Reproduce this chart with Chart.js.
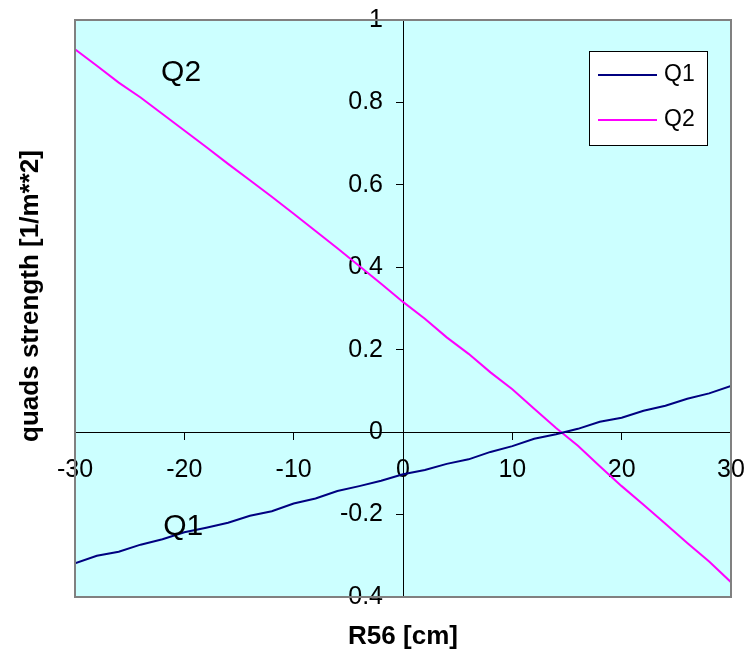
<!DOCTYPE html>
<html>
<head>
<meta charset="utf-8">
<script src="https://cdn.jsdelivr.net/npm/chart.js@4.4.1/dist/chart.umd.min.js"></script>
<style>
  html, body { margin: 0; padding: 0; background: #fff; }
  #chart { display: block; }
</style>
</head>
<body>
<canvas id="chart" width="747" height="655"></canvas>
<script>
// R56 in cm, one point every 2 cm
const r56 = [-30, -28, -26, -24, -22, -20, -18, -16, -14, -12, -10, -8, -6, -4, -2,
             0, 2, 4, 6, 8, 10, 12, 14, 16, 18, 20, 22, 24, 26, 28, 30];
const q1 = [-0.318, -0.300, -0.290, -0.273, -0.260, -0.243, -0.232, -0.220, -0.203, -0.192,
            -0.173, -0.161, -0.143, -0.131, -0.118, -0.102, -0.092, -0.077, -0.066, -0.048,
            -0.034, -0.016, -0.005, 0.008, 0.025, 0.035, 0.052, 0.064, 0.081, 0.094, 0.112];
const q2 = [0.929, 0.889, 0.848, 0.812, 0.772, 0.732, 0.692, 0.651, 0.611, 0.571,
            0.530, 0.488, 0.446, 0.403, 0.360, 0.316, 0.275, 0.230, 0.190, 0.145,
            0.104, 0.057, 0.010, -0.033, -0.083, -0.131, -0.176, -0.222, -0.269, -0.314, -0.364];
const seriesNames = ['Q1', 'Q2'];
const seriesColors = ['#000080', '#ff00ff'];
const xTicks = [-30, -20, -10, 0, 10, 20, 30];
const yTicks = [-0.4, -0.2, 0, 0.2, 0.4, 0.6, 0.8, 1];
const xTitle = 'R56 [cm]';
const yTitle = 'quads strength [1/m**2]';
// in-plot curve labels: [text, x, y]
const curveNotes = [['Q2', -20.3, 0.873], ['Q1', -20.1, -0.229]];

const FONT = '"Liberation Sans", Arial, sans-serif';

function toPoints(ys) {
    return r56.map(function(x, i) { return {x: x, y: ys[i]}; });
}

function noPadding(scale) {
    scale.paddingLeft = 0;
    scale.paddingRight = 0;
    scale.paddingTop = 0;
    scale.paddingBottom = 0;
}

// cyan plot area, grey frame, legend, notes and axis titles
const decorations = {
    id: 'decorations',
    beforeDraw(chart) {
        const ctx = chart.ctx, a = chart.chartArea;
        ctx.save();
        ctx.fillStyle = '#ffffff';
        ctx.fillRect(0, 0, chart.width, chart.height);
        ctx.fillStyle = '#ccffff';
        ctx.fillRect(a.left, a.top, a.right - a.left, a.bottom - a.top);
        ctx.restore();

        // y labels sit left of the tick marks, like the x labels sit below theirs
        const items = chart.scales.y.getLabelItems();
        if (!items.shifted) {
            items.forEach(function(it) { it.options.translation[0] -= 20; });
            items.shifted = true;
        }
    },
    afterDraw(chart) {
        const ctx = chart.ctx, a = chart.chartArea;
        const xs = chart.scales.x, ys = chart.scales.y;
        ctx.save();

        // frame
        ctx.strokeStyle = '#808080';
        ctx.lineWidth = 2;
        ctx.strokeRect(a.left, a.top, a.right - a.left, a.bottom - a.top);

        // curve labels
        ctx.fillStyle = '#000';
        ctx.font = '30px ' + FONT;
        ctx.textAlign = 'center';
        ctx.textBaseline = 'middle';
        curveNotes.forEach(function(n) {
            ctx.fillText(n[0], xs.getPixelForValue(n[1]), ys.getPixelForValue(n[2]));
        });

        // legend box
        const lx = a.right - 142, ly = a.top + 31;
        ctx.fillStyle = '#fff';
        ctx.fillRect(lx, ly, 118, 94);
        ctx.strokeStyle = '#000';
        ctx.lineWidth = 1;
        ctx.strokeRect(lx + 0.5, ly + 0.5, 118, 94);
        ctx.font = '23px ' + FONT;
        ctx.textAlign = 'left';
        chart.data.datasets.forEach(function(ds, i) {
            const y = ly + 24 + i * 45;
            ctx.strokeStyle = ds.borderColor;
            ctx.lineWidth = 2;
            ctx.beginPath();
            ctx.moveTo(lx + 9, y);
            ctx.lineTo(lx + 68, y);
            ctx.stroke();
            ctx.fillStyle = '#000';
            ctx.fillText(ds.label, lx + 75, y);
        });

        // axis titles
        ctx.font = 'bold 26px ' + FONT;
        ctx.textAlign = 'center';
        ctx.fillText(xTitle, (a.left + a.right) / 2, 637);
        ctx.translate(31, 296);
        ctx.rotate(-Math.PI / 2);
        ctx.fillText(yTitle, 0, 0);
        ctx.restore();
    }
};

const ctx = document.getElementById('chart').getContext('2d');
const chart = new Chart(ctx, {
    type: 'line',
    data: {
        datasets: [
            {label: seriesNames[0], data: toPoints(q1), borderColor: seriesColors[0]},
            {label: seriesNames[1], data: toPoints(q2), borderColor: seriesColors[1]}
        ]
    },
    options: {
        responsive: false,
        animation: false,
        devicePixelRatio: 1,
        layout: {padding: {left: 75, right: 16, top: 20, bottom: 58}},
        elements: {
            line: {borderWidth: 2, tension: 0, fill: false},
            point: {radius: 0, hoverRadius: 0}
        },
        plugins: {legend: {display: false}, tooltip: {enabled: false}},
        scales: {
            x: {
                type: 'linear',
                position: {y: 0},
                min: -30, max: 30,
                afterBuildTicks: function(s) { s.ticks = xTicks.map(function(v) { return {value: v}; }); },
                afterFit: noPadding,
                grid: {drawOnChartArea: false, drawTicks: true, tickLength: 7, color: '#000'},
                border: {display: true, color: '#000', width: 1},
                ticks: {color: '#000', font: {family: FONT, size: 25}, padding: 16, maxRotation: 0,
                        callback: function(v) { return String(v); }}
            },
            y: {
                type: 'linear',
                position: {x: 0},
                min: -0.4, max: 1,
                afterBuildTicks: function(s) { s.ticks = yTicks.map(function(v) { return {value: v}; }); },
                afterFit: noPadding,
                grid: {drawOnChartArea: false, drawTicks: true, tickLength: 7, color: '#000'},
                border: {display: true, color: '#000', width: 1},
                ticks: {color: '#000', font: {family: FONT, size: 25}, padding: 13,
                        callback: function(v) { return String(Math.round(v * 10) / 10); }}
            }
        }
    },
    plugins: [decorations]
});
</script>
</body>
</html>
